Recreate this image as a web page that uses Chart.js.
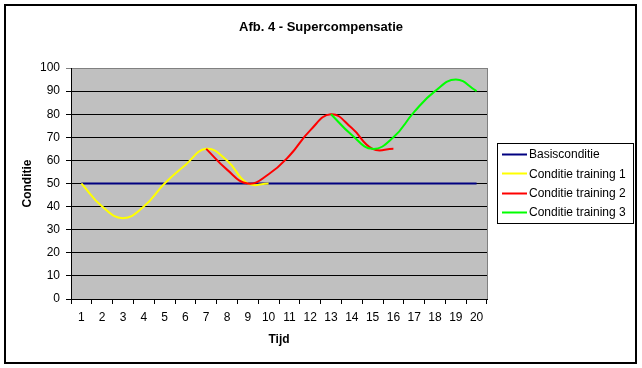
<!DOCTYPE html>
<html>
<head>
<meta charset="utf-8">
<script src="https://cdn.jsdelivr.net/npm/chart.js@4/dist/chart.umd.min.js"></script>
<style>
  html, body { margin: 0; padding: 0; background: #fff; }
  #wrap { width: 642px; height: 368px; }
</style>
</head>
<body>
<div id="wrap"><canvas id="superComp" width="642" height="368"></canvas></div>
<script>
// data
var tijd = ['1','2','3','4','5','6','7','8','9','10','11','12','13','14','15','16','17','18','19','20'];
var basis = [50,50,50,50,50,50,50,50,50,50,50,50,50,50,50,50,50,50,50,50];
var training1 = [50,40,35,40,50,58,65,60,50,50,null,null,null,null,null,null,null,null,null,null];
var training2 = [null,null,null,null,null,null,65,56,50,54,62,73,80,74,65,65,null,null,null,null];
var training3 = [null,null,null,null,null,null,null,null,null,null,null,null,80,71,65,70,81,90,95,90];
var seriesNames = ['Basisconditie','Conditie training 1','Conditie training 2','Conditie training 3'];
var seriesColors = ['#000080','#ffff00','#ff0000','#00ff00'];

var FONT = 'Arial, "Liberation Sans", sans-serif';

// frame, plot background, titles and the boxed legend like the excel original
var excelLook = {
  id: 'excelLook',
  beforeDraw: function(chart) {
    var ctx = chart.ctx, a = chart.chartArea;
    ctx.save();
    ctx.fillStyle = '#fff';
    ctx.fillRect(0, 0, chart.width, chart.height);
    ctx.fillStyle = '#c0c0c0';
    ctx.fillRect(a.left, a.top, a.right - a.left, a.bottom - a.top);
    ctx.restore();
  },
  afterDraw: function(chart) {
    var ctx = chart.ctx, a = chart.chartArea;
    ctx.save();
    // gray right edge of plot
    ctx.strokeStyle = '#808080';
    ctx.lineWidth = 1;
    ctx.beginPath();
    ctx.moveTo(a.right + 0.5, a.top);
    ctx.lineTo(a.right + 0.5, a.bottom);
    ctx.stroke();
    // outer frame
    ctx.strokeStyle = '#000';
    ctx.lineWidth = 2;
    ctx.strokeRect(5, 5, 631, 358);

    ctx.fillStyle = '#000';
    ctx.textAlign = 'center';
    ctx.textBaseline = 'middle';
    ctx.font = 'bold 13px ' + FONT;
    ctx.fillText('Afb. 4 - Supercompensatie', 321, 27);
    ctx.font = 'bold 12px ' + FONT;
    ctx.fillText('Tijd', (a.left + a.right) / 2, 340);
    ctx.save();
    ctx.translate(28, (a.top + a.bottom) / 2);
    ctx.rotate(-Math.PI / 2);
    ctx.fillText('Conditie', 0, 0);
    ctx.restore();

    // legend
    ctx.lineWidth = 1;
    ctx.strokeRect(497.5, 143.5, 136, 80);
    ctx.font = '12px ' + FONT;
    ctx.textAlign = 'left';
    for (var i = 0; i < seriesNames.length; i++) {
      var y = 154 + i * 19.3;
      ctx.strokeStyle = seriesColors[i];
      ctx.lineWidth = 2;
      ctx.beginPath();
      ctx.moveTo(502, Math.round(y) + 0.5);
      ctx.lineTo(527, Math.round(y) + 0.5);
      ctx.stroke();
      ctx.fillStyle = '#000';
      ctx.fillText(seriesNames[i], 529, y + 1);
    }
    ctx.restore();
  }
};

function lineSet(label, data, color, order) {
  return {
    label: label,
    data: data,
    borderColor: color,
    backgroundColor: color,
    borderWidth: 2,
    pointRadius: 0,
    tension: 0.45,
    fill: false,
    order: order
  };
}

var canvas = document.getElementById('superComp');
var chart = new Chart(canvas, {
  type: 'line',
  data: {
    labels: tijd,
    datasets: [
      lineSet(seriesNames[0], basis, seriesColors[0], 3),
      lineSet(seriesNames[1], training1, seriesColors[1], 2),
      lineSet(seriesNames[2], training2, seriesColors[2], 1),
      lineSet(seriesNames[3], training3, seriesColors[3], 0)
    ]
  },
  options: {
    responsive: false,
    animation: false,
    layout: { padding: { left: 0, right: 155, top: 68, bottom: 0 } },
    plugins: {
      legend: { display: false },
      title: { display: false },
      tooltip: { enabled: false }
    },
    scales: {
      x: {
        offset: true,
        grid: { offset: true, drawOnChartArea: false, drawTicks: true, tickLength: 5, color: '#000' },
        border: { color: '#000', width: 1 },
        ticks: { color: '#000', font: { family: FONT, size: 12 }, padding: 6, maxRotation: 0, autoSkip: false },
        afterFit: function(scale) { scale.height = 69; }
      },
      y: {
        min: 0,
        max: 100,
        grid: {
          tickLength: 5,
          color: function(c) { return c.tick && c.tick.value === 100 ? '#808080' : '#000'; }
        },
        border: { color: '#000', width: 1 },
        ticks: { stepSize: 10, color: '#000', font: { family: FONT, size: 12 }, padding: 6 },
        afterFit: function(scale) { scale.width = 71; }
      }
    }
  },
  plugins: [excelLook]
});
</script>
</body>
</html>
